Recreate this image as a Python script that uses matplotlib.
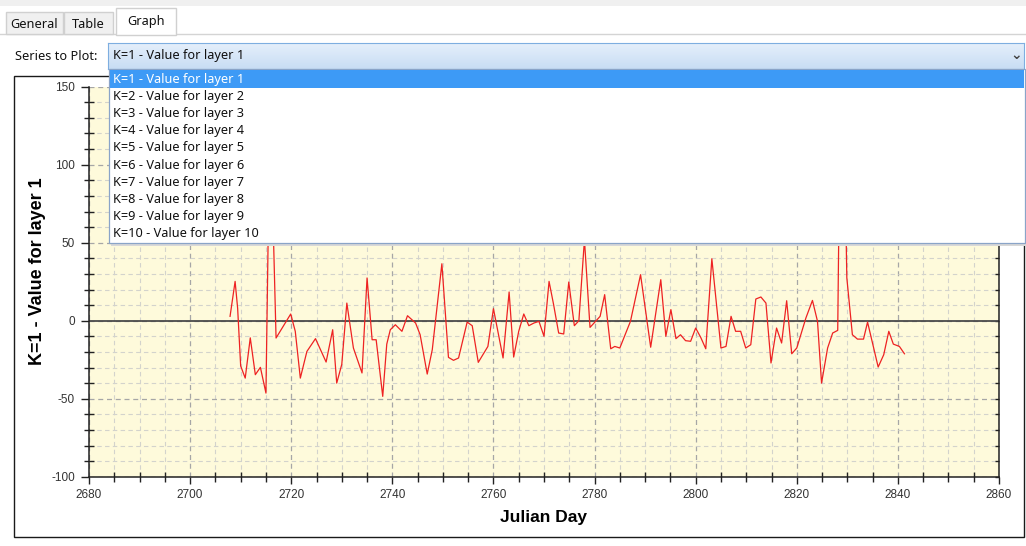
import numpy as np
import matplotlib
matplotlib.use("Agg")
import matplotlib.pyplot as plt
from matplotlib.patches import Rectangle
from matplotlib.ticker import MultipleLocator

# series (Julian day, value for layer 1)
days = [2707.9, 2708.9, 2709.4, 2710.0, 2710.9, 2711.9, 2712.9, 2713.9, 2715.0, 2715.6,
        2716.2, 2717.0, 2719.9, 2720.8, 2721.8, 2723.1, 2724.8, 2726.9, 2728.2, 2729.0,
        2730.0, 2731.0, 2732.3, 2734.0, 2735.0, 2736.0, 2736.8, 2738.1, 2738.9, 2739.6,
        2740.6, 2741.9, 2743.0, 2744.6, 2745.5, 2746.9, 2747.9, 2749.8, 2751.1, 2752.1,
        2753.1, 2754.8, 2755.8, 2757.0, 2758.9, 2760.0, 2761.9, 2763.1, 2764.0, 2765.0,
        2766.0, 2767.0, 2768.0, 2769.0, 2770.0, 2771.0, 2771.9, 2772.9, 2773.9, 2774.9,
        2776.0, 2776.9, 2778.0, 2779.1, 2780.2, 2781.1, 2782.0, 2783.2, 2784.0, 2785.0,
        2787.1, 2789.1, 2791.1, 2793.1, 2794.1, 2795.1, 2796.1, 2797.0, 2798.0, 2799.0,
        2800.0, 2801.0, 2802.0, 2803.2, 2805.0, 2806.0, 2807.0, 2807.9, 2808.9, 2809.9,
        2810.9, 2811.9, 2812.9, 2813.9, 2814.9, 2816.0, 2817.0, 2818.0, 2819.0, 2820.0,
        2821.8, 2823.1, 2824.1, 2824.9, 2826.1, 2827.1, 2828.1, 2828.4, 2829.6, 2829.9,
        2831.0, 2832.0, 2833.2, 2834.0, 2836.1, 2837.2, 2838.2, 2839.1, 2840.3, 2841.3]
values = [2.8, 25.2, 8.0, -29.0, -36.8, -11.0, -34.6, -29.9, -46.4, 90.0,
          90.0, -11.1, 4.3, -6.8, -36.8, -19.7, -11.5, -26.5, -5.8, -40.0,
          -28.0, 11.3, -17.5, -33.5, 27.4, -12.2, -12.2, -48.5, -15.0, -5.8,
          -2.6, -6.8, 3.2, -1.5, -9.0, -34.2, -18.6, 36.5, -23.5, -25.4,
          -23.9, -0.9, -3.2, -26.7, -16.5, 7.7, -23.9, 18.4, -23.3, -6.8,
          4.3, -3.2, -1.5, -0.4, -10.0, 25.2, 10.3, -7.9, -8.5, 24.8,
          -3.2, 0.0, 52.0, -4.3, -0.4, 2.8, 16.7, -18.0, -16.5, -17.5,
          -0.4, 29.5, -17.0, 26.3, -10.0, 7.1, -11.5, -9.0, -12.8, -13.2,
          -4.7, -10.7, -18.0, 39.7, -17.5, -16.5, 2.8, -6.8, -6.8, -17.5,
          -15.4, 13.9, 15.2, 11.3, -27.1, -4.7, -14.3, 12.8, -21.2, -17.5,
          1.7, 13.0, -0.4, -40.0, -17.5, -7.9, -6.2, 85.0, 85.0, 27.4,
          -9.0, -11.8, -11.8, -0.9, -29.7, -21.8, -6.8, -15.0, -16.5, -21.2]

tab_names = ["General", "Table", "Graph"]
series_names = ["K=%d - Value for layer %d" % (k, k) for k in range(1, 11)]

plt.rcParams["font.family"] = ["Liberation Sans", "DejaVu Sans"]
plt.rcParams["axes.unicode_minus"] = False

W, H = 1026, 546
fig = plt.figure(figsize=(W / 100, H / 100), dpi=100)
fig.patch.set_facecolor("white")

ui_font = ["Noto Sans", "DejaVu Sans"]
ui_size = 9.2


def rect(x, y, w, h, **kw):
    r = Rectangle((x / W, 1 - (y + h) / H), w / W, h / H,
                  transform=fig.transFigure, **kw)
    fig.add_artist(r)
    return r


def text(x, y, s, **kw):
    return fig.text(x / W, 1 - y / H, s, **kw)


# window / tabs
rect(0, 0, W, 6, facecolor="#f0f0f0", edgecolor="none", zorder=-2)
rect(-1, 34, W + 2, 0.1, facecolor="none", edgecolor="#d4d4d4", lw=1, zorder=-2)
tab_boxes = [(6, 12, 57, 22), (64, 12, 49, 22), (116, 8, 60, 27)]
for name, (x, y, w, h) in zip(tab_names, tab_boxes):
    sel = name == "Graph"
    rect(x, y, w, h, facecolor="white" if sel else "#f0f0f0",
         edgecolor="#d0d0d0", lw=1, zorder=-1)
    text(x + w / 2, y + h / 2 + (0 if sel else 1), name, family=ui_font,
         fontsize=ui_size, ha="center", va="center", color="#111111", zorder=1)

text(15, 56, "Series to Plot:", family=ui_font, fontsize=ui_size, va="center",
     color="#111111")

# chart frame
rect(13.5, 75.5, 1010.5, 461.5, facecolor="white", edgecolor="#1a1a1a", lw=1, zorder=-1)

ax = fig.add_axes([89 / W, 1 - 476.7 / H, (999 - 89) / W, (476.7 - 86.7) / H])
ax.set_facecolor("#fefadb")
ax.plot(days, values, color="#ee2222", lw=0.9, zorder=3)
ax.axhline(0, color="#4a4a4a", lw=1.3, zorder=2)

ax.set_xlim(2680, 2860)
ax.set_ylim(-100, 150)
ax.xaxis.set_major_locator(MultipleLocator(20))
ax.xaxis.set_minor_locator(MultipleLocator(5))
ax.yaxis.set_major_locator(MultipleLocator(50))
ax.yaxis.set_minor_locator(MultipleLocator(10))

ax.grid(which="major", ls=(0, (4, 3)), color="#a6a6a6", lw=0.9)
ax.grid(which="minor", ls=(0, (4, 3)), color="#d3d3cc", lw=0.8)
ax.set_axisbelow(True)

for s in ["left", "bottom", "right"]:
    ax.spines[s].set_color("#222222")
    ax.spines[s].set_linewidth(1.1)
ax.spines["top"].set_visible(False)

ax.tick_params(axis="y", which="major", direction="out", length=6, width=1,
               color="#222222", pad=4, labelsize=8.5, labelcolor="#333333",
               right=True)
ax.tick_params(axis="y", which="minor", direction="inout", length=6.5, width=1,
               color="#222222", right=True)
ax.tick_params(axis="x", which="major", direction="out", length=5, width=1,
               color="#222222", pad=4, labelsize=8.5, labelcolor="#333333")
ax.tick_params(axis="x", which="minor", direction="inout", length=7, width=1,
               color="#222222")
for t in ax.yaxis.get_major_ticks() + ax.yaxis.get_minor_ticks():
    t.tick2line.set_marker(matplotlib.lines.TICKLEFT)
    t.tick2line.set_markersize(3)

ax.set_xlabel("Julian Day", fontsize=12.5, fontweight="bold", labelpad=6)
ax.set_ylabel("K=1 - Value for layer 1", fontsize=13, fontweight="bold",
              labelpad=4)
ax.yaxis.label.set_y(0.527)

# combo box with gradient
cax = fig.add_axes([108 / W, 1 - 69 / H, (1024 - 108) / W, 26 / H], zorder=5)
grad = np.linspace(0, 1, 50).reshape(-1, 1)
cmap = matplotlib.colors.LinearSegmentedColormap.from_list("cb", ["#e6f0fb", "#c8ddf4"])
cax.imshow(grad, aspect="auto", cmap=cmap, extent=(0, 1, 0, 1))
cax.set_xticks([])
cax.set_yticks([])
for s in cax.spines.values():
    s.set_color("#7eaee0")
text(113, 56, series_names[0], family=ui_font, fontsize=ui_size, va="center",
     color="#111111", zorder=7)
text(1016, 55, "\u2304", family="DejaVu Sans", fontsize=10, va="center", ha="center",
     color="#444444", fontweight="bold", zorder=7)

# dropdown list
rect(111, 71, 915, 175, facecolor="#d8d8d8", edgecolor="none", zorder=5.5)
rect(109, 69, 916, 174, facecolor="white", edgecolor="#8aa4c8", lw=0.9, zorder=6)
rect(110, 70, 914, 18, facecolor="#3d9af6", edgecolor="none", zorder=6.5)
for i, name in enumerate(series_names):
    text(113, 79.5 + 17.1 * i, name, family=ui_font, fontsize=ui_size, va="center",
         color="white" if i == 0 else "#111111", zorder=7)

fig.savefig("out.png", dpi=100)
